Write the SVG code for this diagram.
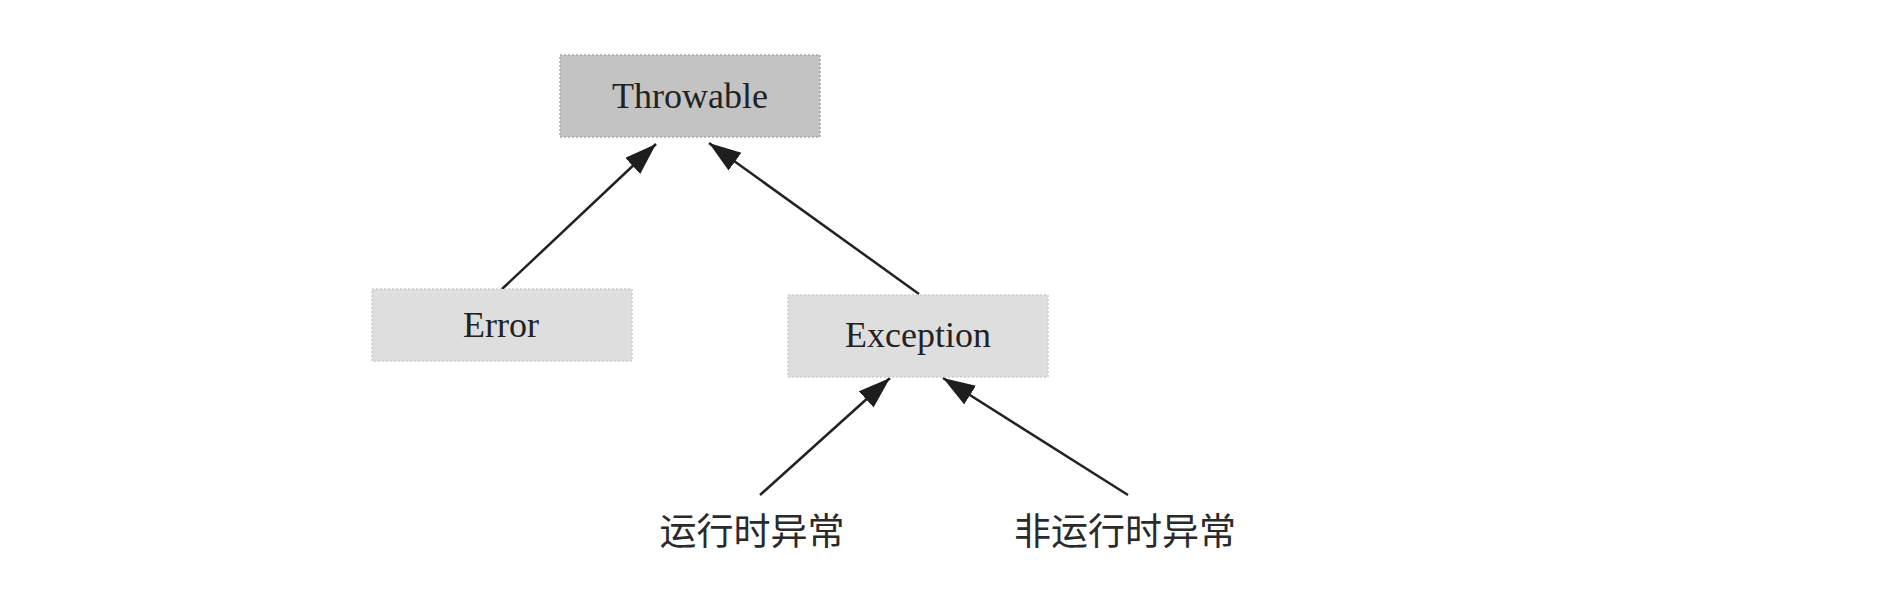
<svg xmlns="http://www.w3.org/2000/svg" width="1888" height="590" viewBox="0 0 1888 590">
  <style>
    .box { stroke-width: 1.5; stroke-dasharray: 2 2; }
    .root { fill: #c3c3c3; stroke: #a9a9a9; }
    .child { fill: #dedede; stroke: #cdcdcd; }
    .lbl { font-family: "Liberation Serif", "Times New Roman", serif; font-size: 36px; fill: #222; text-anchor: middle; }
    .cjk { font-family: "Noto Sans CJK SC", "Noto Sans", sans-serif; font-size: 37px; fill: #2a2a2a; text-anchor: middle; }
    .edge { stroke: #222; stroke-width: 2.5; fill: none; marker-end: url(#arrow); }
  </style>
  <defs>
    <marker id="arrow" markerUnits="userSpaceOnUse" markerWidth="34" markerHeight="24" refX="32" refY="11" orient="auto">
      <path d="M0,0 L32,11 L0,22 Z" fill="#1e1e1e"/>
    </marker>
  </defs>
  <rect width="1888" height="590" fill="#ffffff"/>
  <g id="connectors">
    <line class="edge" x1="501" y1="290" x2="656" y2="144"/>
    <line class="edge" x1="919" y1="294" x2="709" y2="143"/>
    <line class="edge" x1="760" y1="495" x2="890" y2="378"/>
    <line class="edge" x1="1128" y1="495" x2="943" y2="378"/>
  </g>
  <g id="throwable">
    <rect class="box root" x="560" y="55" width="260" height="82"/>
    <text class="lbl" x="690" y="108">Throwable</text>
  </g>
  <g id="error">
    <rect class="box child" x="372" y="289" width="260" height="72"/>
    <text class="lbl" x="501" y="337">Error</text>
  </g>
  <g id="exception">
    <rect class="box child" x="788" y="295" width="260" height="82"/>
    <text class="lbl" x="918" y="347">Exception</text>
  </g>
  <g id="runtime">
    <text class="cjk" x="752" y="545">运行时异常</text>
  </g>
  <g id="nonruntime">
    <text class="cjk" x="1125" y="545">非运行时异常</text>
  </g>
</svg>
